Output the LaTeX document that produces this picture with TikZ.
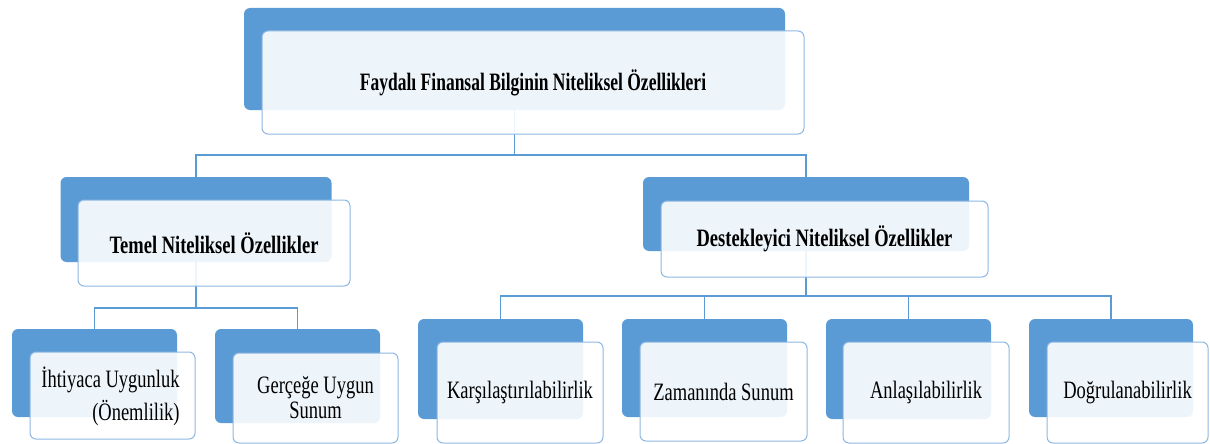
\documentclass[tikz,border=0pt]{standalone}
\usepackage{fontspec}
\setmainfont[FakeStretch=0.74]{Liberation Serif}
\newfontfamily\titlefont[FakeStretch=0.70]{Liberation Serif}
\usepackage{xcolor}
\usetikzlibrary{positioning,calc}

\definecolor{boxblue}{HTML}{5B9BD5}
\definecolor{rimblue}{HTML}{8DB7E2}

\tikzset{
  backbox/.style={draw=none,fill=boxblue,rounded corners=6pt,inner sep=0pt,outer sep=0pt},
  frontbox/.style={draw=rimblue,line width=1pt,fill=white,fill opacity=0.9,text opacity=1,
    rounded corners=6pt,inner sep=0pt,outer sep=0pt,align=center,
    font=\fontsize{25}{30}\selectfont},
  headtext/.style={font=\fontsize{25}{30}\selectfont\bfseries},
  link/.style={draw=boxblue,line width=1.2pt}
}

\begin{document}
\begin{tikzpicture}[x=1pt,y=-1pt]
\useasboundingbox (0,0) rectangle (1210,444);

% back (blue) boxes
\node[backbox,minimum width=541pt,minimum height=102pt] (topB) at (514.5,59) {};
\node[backbox,minimum width=271pt,minimum height=85pt] (basicB) at (196,219.5) {};
\node[backbox,minimum width=326pt,minimum height=74pt] (suppB) at (806,214) {};
\node[backbox,minimum width=165pt,minimum height=88pt] (relB) at (94.5,373) {};
\node[backbox,minimum width=165pt,minimum height=94pt] (faithB) at (297.5,376) {};
\node[backbox,minimum width=165pt,minimum height=100pt] (compB) at (500.5,369) {};
\node[backbox,minimum width=165pt,minimum height=98pt] (timeB) at (704.5,368) {};
\node[backbox,minimum width=165pt,minimum height=100pt] (undB) at (908.5,369) {};
\node[backbox,minimum width=164pt,minimum height=98pt] (verB) at (1111,368) {};

% connectors
\draw[link] (topB.south) -- ++(0,45) coordinate (topbar)
  (basicB.north) |- (topbar) -| (suppB.north);
\draw[link] (basicB.south) -- ++(0,46) coordinate (leftbar)
  (relB.north) |- (leftbar) -| (faithB.north);
\draw[link] (suppB.south) -- ++(0,45) coordinate (rightbar)
  (compB.north) |- (rightbar) -| (verB.north);
\draw[link] (timeB.north) -- (timeB.north |- rightbar);
\draw[link] (undB.north) -- (undB.north |- rightbar);

% front (white) boxes
\node[frontbox,font=\titlefont\fontsize{25}{30}\selectfont\bfseries,minimum width=542pt,minimum height=103pt] (topF) at (533,82.5)
  {Faydalı Finansal Bilginin Niteliksel Özellikleri};
\node[frontbox,headtext,minimum width=272pt,minimum height=86pt] (basicF) at (214,243)
  {Temel Niteliksel Özellikler};
\node[frontbox,headtext,minimum width=327pt,minimum height=76pt] (suppF) at (824.5,239)
  {Destekleyici Niteliksel Özellikler};
\node[frontbox,minimum width=165pt,minimum height=87pt] (relF) at (112.5,395.5) {};
\node[align=right,font=\fontsize{25}{33}\selectfont,inner sep=0pt] (relT) at (110.5,396.5)
  {İhtiyaca Uygunluk\\(Önemlilik)};
\node[frontbox,minimum width=165pt,minimum height=90pt] (faithF) at (315.5,398)
  {Gerçeğe Uygun\\[-5pt]Sunum};
\node[frontbox,minimum width=166pt,minimum height=101pt] (compF) at (520,392.5)
  {Karşılaştırılabilirlik};
\node[frontbox,minimum width=167pt,minimum height=99pt] (timeF) at (723.5,391.5)
  {Zamanında Sunum};
\node[frontbox,minimum width=166pt,minimum height=101pt] (undF) at (926,392.5)
  {Anlaşılabilirlik};
\node[frontbox,minimum width=161pt,minimum height=101pt] (verF) at (1127.5,392.5)
  {Doğrulanabilirlik};
\end{tikzpicture}
\end{document}
